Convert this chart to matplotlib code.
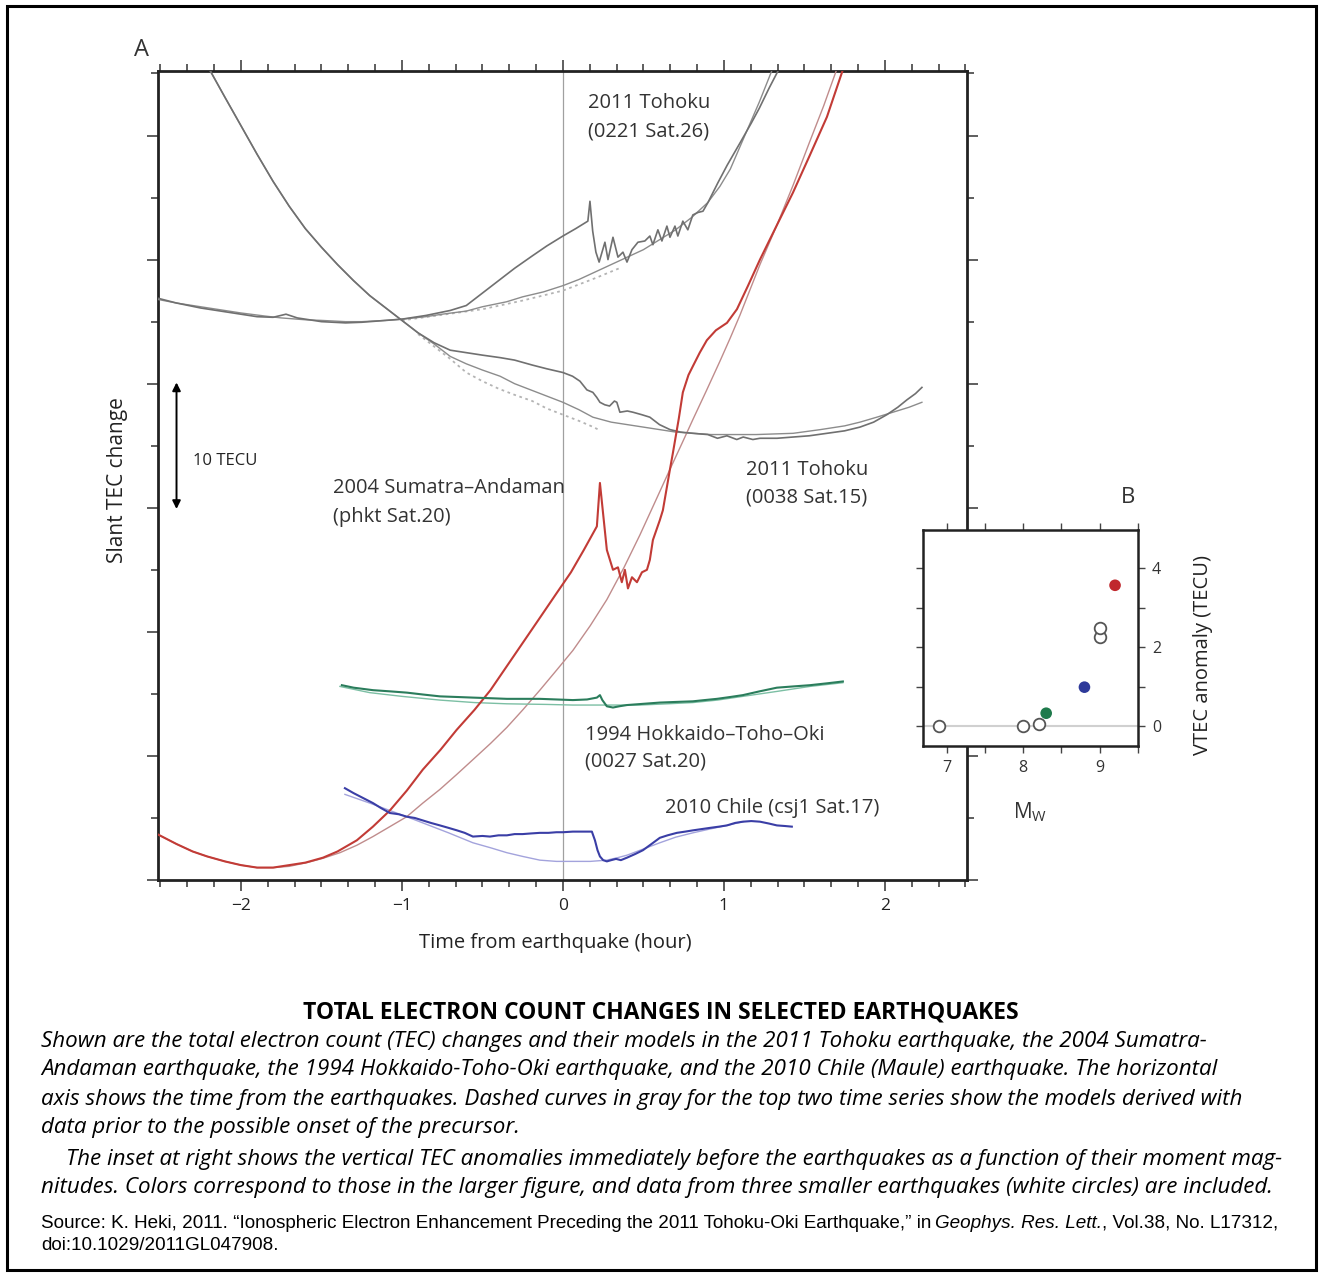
import matplotlib
matplotlib.use("Agg")
import matplotlib.pyplot as plt
from matplotlib.ticker import MultipleLocator, NullFormatter
from matplotlib.patches import Rectangle

# ---------------- data (hours from earthquake, TEC units) ----------------
# 2011 Tohoku (0221 Sat.26)
t26_obs_x = [-2.52, -2.4, -2.25, -2.1, -2.0, -1.9, -1.8, -1.72, -1.65, -1.5, -1.35, -1.25, -1.1,
             -1.0, -0.85, -0.7, -0.6, -0.5, -0.39, -0.3, -0.19, -0.1, 0.0, 0.08, 0.155, 0.168,
             0.185, 0.205, 0.225, 0.261, 0.280, 0.311, 0.342, 0.373, 0.398, 0.429,
             0.466, 0.509, 0.540, 0.559, 0.590, 0.615, 0.646, 0.665, 0.696, 0.714, 0.745, 0.776,
             0.807, 0.839, 0.870, 0.901, 0.932, 0.963, 1.02, 1.10, 1.17, 1.22, 1.28, 1.34]
t26_obs_y = [46.9, 46.5, 46.1, 45.8, 45.6, 45.4, 45.35, 45.6, 45.3, 45.0, 44.9, 44.95, 45.1,
             45.2, 45.5, 45.9, 46.3, 47.3, 48.4, 49.3, 50.3, 51.1, 51.9, 52.5, 53.1, 54.7,
             52.3, 50.6, 49.8, 51.4, 50.0, 51.8, 50.2, 50.6, 49.8, 50.8,
             51.4, 51.5, 51.9, 51.2, 52.4, 51.5, 52.7, 51.8, 52.7, 51.9, 53.1, 52.4,
             53.6, 53.8, 53.9, 54.6, 55.4, 56.2, 57.6, 59.4, 61.0, 62.2, 63.8, 65.3]
t26_mod_x = [-2.52, -2.4, -2.25, -2.1, -2.0, -1.85, -1.75, -1.6, -1.5, -1.35, -1.25, -1.1, -1.0,
             -0.85, -0.75, -0.6, -0.5, -0.35, -0.25, -0.12, 0.0, 0.1, 0.2, 0.3, 0.4, 0.5, 0.6,
             0.7, 0.8, 0.9, 0.975, 1.04, 1.1, 1.16, 1.22, 1.26, 1.30]
t26_mod_y = [46.8, 46.5, 46.2, 45.9, 45.7, 45.45, 45.3, 45.15, 45.1, 45.0, 45.0, 45.1, 45.2,
             45.4, 45.6, 45.85, 46.2, 46.6, 47.0, 47.4, 47.9, 48.4, 49.0, 49.6, 50.2, 50.8, 51.6,
             52.4, 53.4, 54.6, 55.9, 57.3, 59.1, 60.9, 62.7, 64.0, 65.3]
t26_pre_x = [-1.0, -0.5, -0.25, 0.0, 0.1, 0.2, 0.35]
t26_pre_y = [45.1, 46.0, 46.7, 47.5, 48.0, 48.5, 49.3]

# 2011 Tohoku (0038 Sat.15)
t15_obs_x = [-2.19, -2.10, -2.00, -1.90, -1.80, -1.70, -1.60, -1.50, -1.40, -1.30, -1.20, -1.10,
             -1.00, -0.90, -0.80, -0.70, -0.60, -0.50, -0.39, -0.30, -0.19, -0.10, 0.0, 0.06,
             0.106, 0.149, 0.186, 0.21, 0.23, 0.26, 0.29, 0.32, 0.335, 0.354, 0.40, 0.435,
             0.49, 0.54, 0.60, 0.665, 0.73, 0.807, 0.90, 0.96, 1.019, 1.08, 1.12, 1.18, 1.224,
             1.33, 1.429, 1.53, 1.64, 1.75, 1.845, 1.93, 2.012, 2.08, 2.137, 2.19, 2.23]
t15_obs_y = [65.2, 63.1, 60.8, 58.5, 56.3, 54.3, 52.5, 51.0, 49.6, 48.3, 47.1, 46.1,
             45.1, 44.1, 43.3, 42.7, 42.5, 42.3, 42.1, 41.9, 41.5, 41.2, 40.9, 40.6,
             40.2, 39.5, 39.3, 38.9, 38.5, 38.3, 38.2, 38.6, 38.5, 37.7, 37.8, 37.7,
             37.5, 37.3, 36.7, 36.3, 36.1, 36.0, 35.9, 35.6, 35.8, 35.5, 35.7, 35.5, 35.6,
             35.6, 35.7, 35.8, 36.0, 36.2, 36.5, 36.9, 37.5, 38.1, 38.7, 39.2, 39.7]
t15_mod_x = [-2.19, -2.10, -2.00, -1.90, -1.80, -1.70, -1.60, -1.50, -1.40, -1.30, -1.20, -1.10,
             -1.00, -0.90, -0.80, -0.70, -0.60, -0.50, -0.39, -0.30, -0.20, -0.10, 0.0, 0.10,
             0.186, 0.30, 0.40, 0.50, 0.60, 0.70, 0.81, 0.92, 1.02, 1.20, 1.43, 1.60, 1.75,
             1.845, 1.95, 2.05, 2.15, 2.23]
t15_mod_y = [65.2, 63.1, 60.8, 58.5, 56.3, 54.3, 52.5, 51.0, 49.6, 48.3, 47.1, 46.1,
             45.1, 44.1, 43.2, 42.2, 41.6, 41.1, 40.6, 40.0, 39.5, 39.0, 38.5, 37.9,
             37.3, 36.9, 36.7, 36.5, 36.3, 36.1, 36.0, 35.9, 35.9, 35.9, 36.0, 36.3, 36.6,
             36.9, 37.3, 37.7, 38.1, 38.5]
t15_pre_x = [-0.9, -0.8, -0.7, -0.6, -0.5, -0.4, -0.3, -0.19, -0.1, 0.0, 0.1, 0.19, 0.22]
t15_pre_y = [44.0, 43.0, 42.0, 40.9, 40.2, 39.6, 39.1, 38.6, 38.0, 37.5, 37.0, 36.5, 36.3]

# 2004 Sumatra-Andaman (phkt Sat.20)
sum_obs_x = [-2.52, -2.4, -2.3, -2.21, -2.1, -2.0, -1.9, -1.8, -1.7, -1.6, -1.49, -1.4, -1.28,
             -1.18, -1.075, -0.97, -0.87, -0.76, -0.66, -0.55, -0.45, -0.35, -0.25, -0.15,
             -0.04, 0.05, 0.13, 0.211, 0.23, 0.273, 0.311, 0.342, 0.366, 0.385, 0.404, 0.429,
             0.46, 0.491, 0.522, 0.54, 0.559, 0.602, 0.621, 0.665, 0.683, 0.72, 0.745, 0.78,
             0.807, 0.85, 0.894, 0.95, 1.019, 1.081, 1.15, 1.224, 1.33, 1.429, 1.53, 1.64, 1.739]
sum_obs_y = [3.7, 2.9, 2.3, 1.9, 1.5, 1.2, 1.0, 1.0, 1.2, 1.4, 1.8, 2.3, 3.2,
             4.3, 5.6, 7.2, 8.9, 10.5, 12.1, 13.7, 15.3, 17.2, 19.1, 21.0,
             23.1, 24.8, 26.6, 28.5, 32.0, 26.6, 25.0, 25.2, 24.0, 25.0, 23.5, 24.4,
             24.0, 24.8, 25.0, 25.8, 27.4, 29.0, 29.8, 33.1, 34.4, 37.2, 39.3, 40.7,
             41.4, 42.5, 43.5, 44.3, 44.9, 46.0, 47.9, 50.0, 52.8, 55.4, 58.3, 61.5, 65.3]
sum_mod_x = [-2.52, -2.4, -2.3, -2.21, -2.1, -2.0, -1.9, -1.8, -1.7, -1.59, -1.49, -1.385, -1.28,
             -1.18, -1.075, -0.97, -0.87, -0.764, -0.66, -0.559, -0.45, -0.348, -0.25, -0.143,
             -0.04, 0.062, 0.17, 0.273, 0.38, 0.478, 0.57, 0.665, 0.74, 0.807, 0.89, 0.975,
             1.04, 1.099, 1.16, 1.224, 1.33, 1.43, 1.53, 1.62, 1.70]
sum_mod_y = [3.7, 2.9, 2.3, 1.9, 1.5, 1.2, 1.0, 1.0, 1.1, 1.4, 1.75, 2.2, 2.8,
             3.5, 4.3, 5.1, 6.2, 7.3, 8.5, 9.7, 11.0, 12.3, 13.7, 15.3,
             16.9, 18.5, 20.5, 22.6, 25.2, 27.8, 30.4, 33.1, 35.2, 37.1, 39.4, 41.8,
             43.7, 45.5, 47.5, 49.6, 52.8, 56.0, 59.4, 62.4, 65.3]

# 1994 Hokkaido-Toho-Oki (0027 Sat.20)
hok_obs_x = [-1.373, -1.3, -1.18, -1.07, -0.969, -0.87, -0.764, -0.66, -0.559, -0.45, -0.348,
             -0.25, -0.143, -0.04, 0.062, 0.15, 0.211, 0.23, 0.245, 0.273, 0.311, 0.35, 0.398,
             0.5, 0.602, 0.7, 0.807, 0.88, 0.957, 1.04, 1.118, 1.22, 1.329, 1.43, 1.534, 1.64,
             1.739]
hok_obs_y = [15.7, 15.5, 15.3, 15.2, 15.1, 14.95, 14.8, 14.75, 14.7, 14.65, 14.6,
             14.6, 14.6, 14.55, 14.5, 14.55, 14.7, 14.9, 14.5, 14.0, 13.9, 14.0, 14.1,
             14.2, 14.3, 14.35, 14.4, 14.5, 14.6, 14.75, 14.9, 15.2, 15.5, 15.6, 15.7, 15.85,
             16.0]
hok_mod_x = [-1.385, -1.2, -1.0, -0.764, -0.55, -0.348, -0.1, 0.062, 0.3, 0.478, 0.65, 0.807,
             0.96, 1.118, 1.33, 1.534, 1.739]
hok_mod_y = [15.6, 15.1, 14.8, 14.5, 14.3, 14.2, 14.15, 14.1, 14.1, 14.1, 14.2, 14.3,
             14.5, 14.8, 15.2, 15.6, 15.9]

# 2010 Chile (csj1 Sat.17)
chl_obs_x = [-1.354, -1.3, -1.24, -1.18, -1.13, -1.075, -1.02, -0.969, -0.92, -0.87, -0.82,
             -0.764, -0.71, -0.658, -0.61, -0.559, -0.5, -0.453, -0.4, -0.348, -0.3, -0.25,
             -0.2, -0.143, -0.09, -0.04, 0.0, 0.062, 0.12, 0.18, 0.199, 0.215, 0.23, 0.25,
             0.273, 0.3, 0.33, 0.36, 0.398, 0.45, 0.497, 0.55, 0.602, 0.65, 0.708, 0.76, 0.807,
             0.86, 0.913, 0.97, 1.019, 1.07, 1.118, 1.17, 1.224, 1.28, 1.329, 1.38, 1.422]
chl_obs_y = [7.4, 7.0, 6.6, 6.2, 5.8, 5.4, 5.3, 5.1, 5.0, 4.8, 4.6,
             4.4, 4.2, 4.0, 3.8, 3.5, 3.55, 3.5, 3.6, 3.6, 3.7, 3.7,
             3.75, 3.8, 3.8, 3.85, 3.85, 3.9, 3.9, 3.9, 3.2, 2.4, 1.9, 1.6,
             1.5, 1.6, 1.7, 1.6, 1.8, 2.1, 2.4, 2.9, 3.4, 3.6, 3.8, 3.9, 4.0,
             4.1, 4.2, 4.3, 4.4, 4.6, 4.7, 4.75, 4.7, 4.55, 4.4, 4.35, 4.3]
chl_mod_x = [-1.354, -1.2, -1.075, -0.97, -0.87, -0.71, -0.559, -0.45, -0.348, -0.25, -0.143,
             -0.04, 0.062, 0.17, 0.273, 0.34, 0.398, 0.5, 0.602, 0.7, 0.807, 0.91, 1.019, 1.12]
chl_mod_y = [6.9, 6.2, 5.6, 5.1, 4.6, 3.8, 3.0, 2.6, 2.2, 1.9, 1.6,
             1.5, 1.5, 1.5, 1.6, 1.8, 2.0, 2.5, 3.0, 3.45, 3.8, 4.1, 4.4, 4.7]

# Inset B: moment magnitude vs VTEC anomaly
b_open_mw = [6.9, 8.0, 8.2, 9.0, 9.0]
b_open_vtec = [0.0, 0.0, 0.05, 2.25, 2.48]
b_fill_mw = [8.3, 8.8, 9.2]
b_fill_vtec = [0.33, 0.99, 3.57]
b_fill_colors = ["#1f7a4c", "#2e3a9a", "#c0282d"]

x_tick_vals = [-2, -1, 0, 1, 2]
x_tick_labels = ["\u22122", "\u22121", "0", "1", "2"]

# ---------------- figure ----------------
W, H = 1322, 1277
plt.rcParams["font.family"] = ["Open Sans", "DejaVu Sans"]
fig = plt.figure(figsize=(W / 100, H / 100), dpi=100)


def fx(px):
    return px / W


def fy(py):
    return 1 - py / H


ax = fig.add_axes([fx(158), fy(880), fx(967) - fx(158), fy(71) - fy(880)])
ax.set_xlim(-2.515, 2.51)
ax.set_ylim(0, 65.2)

GRAY_OBS = "#707070"
GRAY_MOD = "#8c8c8c"
GRAY_PRE = "#b4b4b4"

ax.axvline(0, color="#a0a0a0", lw=0.9, zorder=1)

ax.plot(t26_pre_x, t26_pre_y, color=GRAY_PRE, lw=1.3, ls=(0, (1.5, 2)), zorder=2)
ax.plot(t15_pre_x, t15_pre_y, color=GRAY_PRE, lw=1.3, ls=(0, (1.5, 2)), zorder=2)
ax.plot(t26_mod_x, t26_mod_y, color=GRAY_MOD, lw=1.0, zorder=3)
ax.plot(t15_mod_x, t15_mod_y, color=GRAY_MOD, lw=1.0, zorder=3)
ax.plot(t26_obs_x, t26_obs_y, color=GRAY_OBS, lw=1.2, zorder=4)
ax.plot(t15_obs_x, t15_obs_y, color=GRAY_OBS, lw=1.2, zorder=4)

ax.plot(sum_mod_x, sum_mod_y, color="#c08c8c", lw=1.0, zorder=3)
ax.plot(sum_obs_x, sum_obs_y, color="#c23b36", lw=1.5, zorder=4)
ax.plot(hok_mod_x, hok_mod_y, color="#7cbfa4", lw=1.0, zorder=3)
ax.plot(hok_obs_x, hok_obs_y, color="#2b7d5c", lw=1.5, zorder=4)
ax.plot(chl_mod_x, chl_mod_y, color="#a3a3dc", lw=1.0, zorder=3)
ax.plot(chl_obs_x, chl_obs_y, color="#3a3ea6", lw=1.5, zorder=4)

ax.set_xticks(x_tick_vals)
ax.set_xticklabels(x_tick_labels)
ax.xaxis.set_minor_locator(MultipleLocator(1 / 6))
ax.yaxis.set_major_locator(MultipleLocator(10))
ax.yaxis.set_minor_locator(MultipleLocator(5))
ax.yaxis.set_major_formatter(NullFormatter())
ax.tick_params(which="both", direction="out", top=True, right=True, color="#333333",
               width=1.1, labelsize=12.5, pad=5, labelcolor="#222222")
ax.tick_params(which="major", length=8)
ax.tick_params(which="minor", length=5)
for sp in ax.spines.values():
    sp.set_linewidth(2.0)
    sp.set_color("#222222")

# 10 TECU scale arrow
ax.annotate("", xy=(-2.40, 29.9), xytext=(-2.40, 40.1),
            arrowprops=dict(arrowstyle="<|-|>", color="black", lw=1.4,
                            mutation_scale=12, shrinkA=0, shrinkB=0))

# labels inside panel A
lab_fs = 14.5
lab_col = "#333333"
fig.text(fx(193), fy(461), "10 TECU", fontsize=12, va="center", ha="left", color="#222222")
fig.text(fx(588), fy(103), "2011 Tohoku", fontsize=lab_fs, va="center", color=lab_col)
fig.text(fx(588), fy(131), "(0221 Sat.26)", fontsize=lab_fs, va="center", color=lab_col)
fig.text(fx(746), fy(470), "2011 Tohoku", fontsize=lab_fs, va="center", color=lab_col)
fig.text(fx(746), fy(497), "(0038 Sat.15)", fontsize=lab_fs, va="center", color=lab_col)
fig.text(fx(333), fy(488), "2004 Sumatra\u2013Andaman", fontsize=lab_fs, va="center", color=lab_col)
fig.text(fx(333), fy(517), "(phkt Sat.20)", fontsize=lab_fs, va="center", color=lab_col)
fig.text(fx(585), fy(735), "1994 Hokkaido\u2013Toho\u2013Oki", fontsize=lab_fs, va="center", color=lab_col)
fig.text(fx(585), fy(762), "(0027 Sat.20)", fontsize=lab_fs, va="center", color=lab_col)
fig.text(fx(665), fy(808), "2010 Chile (csj1 Sat.17)", fontsize=lab_fs, va="center", color=lab_col)

fig.text(fx(141), fy(50), "A", fontsize=17, ha="center", va="center", color="#333333")
fig.text(fx(555), fy(943), "Time from earthquake (hour)", fontsize=14.5, ha="center", va="center",
         color="#222222")
fig.text(fx(117), fy(480), "Slant TEC change", fontsize=15, ha="center", va="center",
         rotation=90, color="#222222")

# ---------------- inset B ----------------
axb = fig.add_axes([fx(923), fy(746), fx(1138) - fx(923), fy(530) - fy(746)])
axb.set_zorder(5)
axb.set_facecolor("white")
axb.set_xlim(6.69, 9.5)
axb.set_ylim(-0.5, 4.97)
axb.axhline(0, color="#d0d0d0", lw=1.5, zorder=1)
axb.scatter(b_open_mw, b_open_vtec, s=70, facecolor="white", edgecolor="#555555",
            linewidth=1.3, zorder=3)
axb.scatter(b_fill_mw, b_fill_vtec, s=70, c=b_fill_colors, edgecolor="none", zorder=3)
axb.set_xticks([7, 8, 9])
axb.xaxis.set_minor_locator(MultipleLocator(0.5))
axb.set_yticks([0, 2, 4])
axb.yaxis.set_minor_locator(MultipleLocator(1))
axb.tick_params(which="both", direction="out", top=True, bottom=True, left=True, right=True,
                labelleft=False, labelright=True, length=5, width=1.0, color="#444444",
                labelsize=11.5, labelcolor="#333333", pad=5)
for sp in axb.spines.values():
    sp.set_linewidth(1.8)
    sp.set_color("#222222")

fig.text(fx(1128), fy(497), "B", fontsize=16, ha="center", va="center", color="#333333")
fig.text(fx(1203), fy(655), "VTEC anomaly (TECU)", fontsize=14.5, ha="center", va="center",
         rotation=90, color="#222222")
fig.text(fx(1030), fy(812), r"M$_\mathregular{W}$", fontsize=15, ha="center", va="center",
         color="#333333")

# ---------------- caption ----------------
fig.text(fx(661), fy(1012), "TOTAL ELECTRON COUNT CHANGES IN SELECTED EARTHQUAKES",
         fontsize=16.5, fontweight="bold", ha="center", va="center", color="black")

cap_lines = [
    (41, 1041, "Shown are the total electron count (TEC) changes and their models in the 2011 Tohoku earthquake, the 2004 Sumatra-"),
    (41, 1070, "Andaman earthquake, the 1994 Hokkaido-Toho-Oki earthquake, and the 2010 Chile (Maule) earthquake. The horizontal"),
    (41, 1099, "axis shows the time from the earthquakes. Dashed curves in gray for the top two time series show the models derived with"),
    (41, 1128, "data prior to the possible onset of the precursor."),
    (66, 1159, "The inset at right shows the vertical TEC anomalies immediately before the earthquakes as a function of their moment mag-"),
    (41, 1188, "nitudes. Colors correspond to those in the larger figure, and data from three smaller earthquakes (white circles) are included."),
]
for px, py, s in cap_lines:
    fig.text(fx(px), fy(py), s, fontsize=16.1, style="italic", ha="left", va="center",
             color="black")

# source lines with mixed italic
src_fam = ["Liberation Sans", "DejaVu Sans"]
src_fs = 13.6
renderer = fig.canvas.get_renderer()
pieces = [("Source: K. Heki, 2011. \u201cIonospheric Electron Enhancement Preceding the 2011 Tohoku-Oki Earthquake,\u201d in", "normal"),
          ("Geophys. Res. Lett.", "italic"),
          (", Vol.38, No. L17312,", "normal")]
xcur = 41
for i, (s, st) in enumerate(pieces):
    t = fig.text(fx(xcur), fy(1223), s, fontsize=src_fs, family=src_fam, style=st,
                 ha="left", va="center", color="black")
    bb = t.get_window_extent(renderer=renderer)
    xcur = bb.x1
    if i == 0:
        xcur += 4
fig.text(fx(41), fy(1245), "doi:10.1029/2011GL047908.", fontsize=src_fs, family=src_fam,
         ha="left", va="center", color="black")

# outer frame
fig.patches.append(Rectangle((fx(7), fy(1270)), fx(1316) - fx(7), fy(6) - fy(1270),
                             transform=fig.transFigure, fill=False, lw=2.2, ec="black"))

fig.savefig("out.png", dpi=100)
